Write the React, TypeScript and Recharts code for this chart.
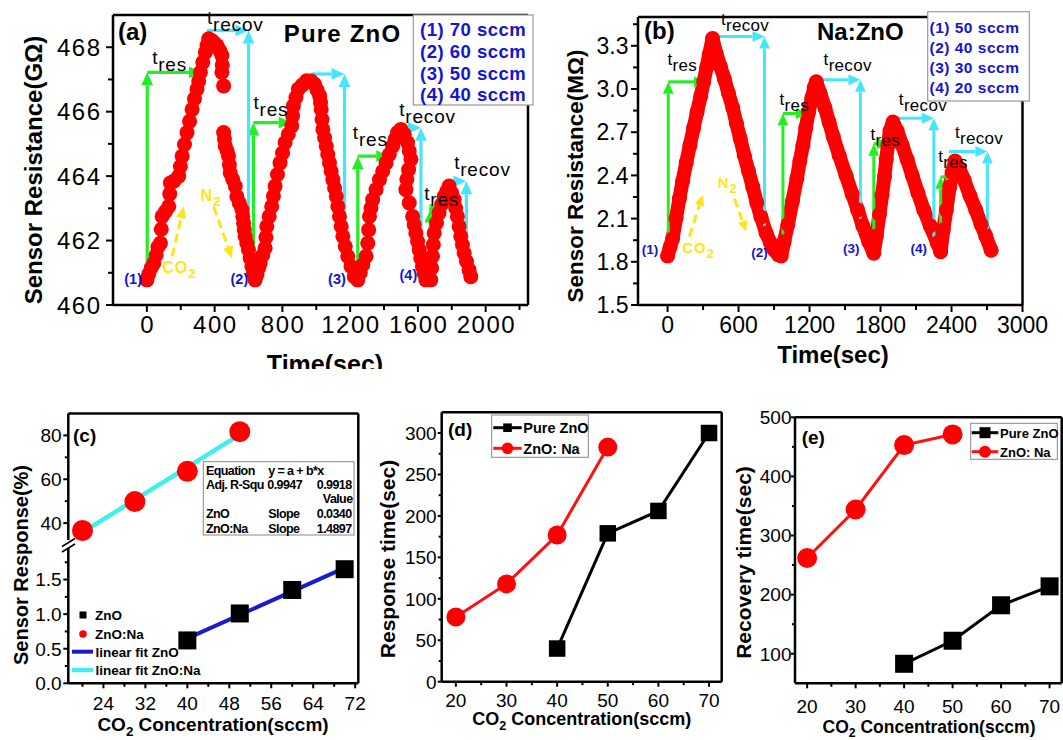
import React from "react";
import {
  ComposedChart,
  Scatter,
  Line,
  XAxis,
  YAxis,
  ReferenceLine,
  ReferenceDot,
} from "recharts";

const FONT = "'Liberation Sans', Arial, Helvetica, sans-serif";
const W = 1063;
const H = 740;
const AXIS_W = 40;
const AXIS_H = 30;

const RED = "#ff0000";
const GREEN = "#22ee22";
const CYAN = "#44e6ff";
const BLUE = "#1414d6";
const YELLOW = "#ffe41a";
const FIT_BLUE = "#1a1ad0";
const FIT_CYAN = "#40eef0";

// ---------- (a) pure ZnO : resistance (GΩ) vs time (s)
const aTime = [
  0, 10, 25, 41, 55, 65, 80, 85, 90, 110, 129, 135, 139, 160, 188, 198, 208, 222, 237, 252, 267, 281, 296, 306, 316, 330, 345, 355, 365,
  385, 400, 414, 430, 443, 445, 443, 453, 453, 458, 463, 474, 482, 487, 492, 507, 522, 531, 546, 561, 566, 571, 575, 580, 590, 600, 610, 620, 629,
  639, 650, 660, 669, 684, 698, 703, 708, 722, 737, 747, 757, 771, 786, 801, 816, 835, 855, 860, 865, 880, 894, 918, 943, 970, 990, 1005, 1020, 1025, 1029,
  1034, 1039, 1049, 1059, 1068, 1078, 1088, 1098, 1108, 1118, 1127, 1137, 1147, 1157, 1171, 1186, 1205, 1225,
  1245, 1260, 1275, 1294, 1304, 1309, 1314, 1323, 1333, 1353, 1373, 1392, 1412, 1431, 1451, 1465, 1480, 1500, 1520, 1539,
  1549, 1559, 1545, 1535, 1529, 1549, 1569, 1578, 1588, 1598, 1608, 1617, 1627, 1637, 1647,
  1676, 1681, 1686, 1691, 1696, 1710, 1725, 1740, 1755, 1770, 1784, 1799, 1814, 1823, 1833, 1843, 1853, 1863, 1873, 1887, 1902, 1912,
];
const aRes = [
  460.78, 460.95, 461.15, 461.3, 461.55, 461.8, 461.92, 462.35, 462.75, 462.9, 463.06, 463.45, 463.79, 463.85, 464.0, 464.3, 464.62, 464.98, 465.35, 465.7, 466.07, 466.4, 466.7, 466.95, 467.22, 467.53, 467.84, 468.05, 468.26,
  468.2, 468.12, 468.05, 467.9, 467.74, 467.45, 467.22, 466.8, 465.35, 465.15, 464.93, 464.78, 464.62, 464.35, 464.1, 463.9, 463.69, 463.37, 463.16, 462.96, 462.75, 462.54, 462.33, 462.13, 461.92, 461.71, 461.45, 461.2, 460.99,
  460.78, 460.95, 461.15, 461.3, 461.55, 461.77, 462.1, 462.44, 462.75, 463.06, 463.38, 463.69, 464.05, 464.41, 464.72, 465.04, 465.3, 465.56, 465.87, 466.18, 466.44, 466.7, 466.83, 466.96, 466.95, 466.85, 466.67, 466.49, 466.28, 466.07,
  465.76, 465.45, 465.19, 464.93, 464.67, 464.41, 464.15, 463.89, 463.63, 463.37, 463.06, 462.75, 462.44, 462.13, 461.82, 461.51, 461.2, 460.88,
  460.78, 461.0, 461.25, 461.51, 461.92, 462.33, 462.75, 463.01, 463.27, 463.58, 463.89, 464.15, 464.41, 464.67, 464.93, 465.14, 465.35, 465.45, 465.3, 465.04,
  464.78, 464.52, 464.2, 463.9, 463.58, 463.17, 462.75, 462.49, 462.23, 461.97, 461.71, 461.45, 461.19, 460.98, 460.78,
  460.78, 461.15, 461.51, 461.87, 462.23, 462.55, 462.86, 463.12, 463.37, 463.53, 463.69, 463.48, 463.27, 463.01, 462.75, 462.44, 462.13, 461.87, 461.61, 461.35, 461.09, 460.88,
];
const aFlows = ["(1) 70 sccm", "(2) 60 sccm", "(3) 50 sccm", "(4) 40 sccm"];
// [t, low, top, end of horizontal]
const aResArrows = [
  [2, 460.78, 467.22, 325],
  [629, 460.78, 465.66, 855],
  [1245, 460.78, 464.62, 1431],
  [1673, 460.78, 462.96, 1745],
];
// [start of horizontal, t, low, top]
const aRecovArrows = [
  [355, 600, 462.2, 468.52],
  [970, 1167, 462.02, 467.17],
  [1461, 1618, 461.77, 465.5],
  [1775, 1886, 461.25, 463.84],
];
const aResLabels = [[31, 467.48], [629, 466.07], [1216, 465.14], [1637, 463.27]];
const aRecovLabels = [[355, 468.72], [1490, 465.87], [1814, 464.21]];
const aSteps = [[-81, 460.65], [546, 460.65], [1122, 460.65], [1544, 460.78]];
const aCO2 = [[193, 460.99], [149, 461.51], [218, 463.06]];
const aN2 = [[316, 463.22], [394, 463.06], [502, 461.45]];

// ---------- (b) Na:ZnO : resistance (MΩ) vs time (s)
const bTime = [
  0, 20, 42, 71, 100, 127, 158, 189, 220, 249, 280, 305, 330, 352, 380,
  410, 445, 480, 515, 551, 582, 613, 648, 684, 720, 754, 790, 833, 870, 904, 935, 960,
  985, 1017, 1055, 1093, 1118, 1144, 1168, 1192, 1220, 1240, 1257,
  1290, 1330, 1365, 1400, 1450, 1508, 1560, 1607, 1650, 1700, 1743,
  1765, 1791, 1812, 1833, 1848, 1862, 1880, 1905,
  1940, 1983, 2025, 2068, 2115, 2166, 2220, 2280, 2308,
  2330, 2356, 2384, 2405, 2430,
  2465, 2506, 2555, 2605, 2650, 2689, 2735,
];
const bRes = [
  1.84, 1.9, 1.96, 2.1, 2.24, 2.36, 2.49, 2.61, 2.73, 2.84, 2.95, 3.05, 3.15, 3.24, 3.35,
  3.25, 3.16, 3.07, 2.97, 2.87, 2.76, 2.66, 2.54, 2.43, 2.32, 2.21, 2.11, 2.0, 1.93, 1.88, 1.85, 1.84,
  1.94, 2.06, 2.22, 2.38, 2.5, 2.61, 2.73, 2.84, 2.94, 3.01, 3.05,
  2.97, 2.87, 2.77, 2.67, 2.54, 2.4, 2.27, 2.16, 2.05, 1.94, 1.86,
  1.98, 2.13, 2.26, 2.39, 2.51, 2.61, 2.71, 2.77,
  2.71, 2.61, 2.51, 2.4, 2.28, 2.16, 2.05, 1.93, 1.87,
  2.02, 2.16, 2.32, 2.42, 2.5,
  2.45, 2.37, 2.26, 2.16, 2.06, 1.98, 1.88,
];
const bFlows = ["(1) 50 sccm", "(2) 40 sccm", "(3) 30 sccm", "(4) 20 sccm"];
const bResArrows = [
  [6, 1.85, 3.05, 325],
  [975, 1.86, 2.83, 1186],
  [1743, 1.88, 2.62, 1870],
  [2308, 1.87, 2.39, 2449],
];
const bRecovArrows = [
  [339, 819, 2.0, 3.365],
  [1229, 1630, 2.0, 3.064],
  [1912, 2251, 1.95, 2.797],
  [2378, 2703, 1.95, 2.566],
];
const bResLabels = [[0, 3.168], [946, 2.89], [1715, 2.647], [2288, 2.496]];
const bRecovLabels = [[452, 3.446], [1319, 3.168], [1955, 2.89], [2429, 2.658]];
const bSteps = [[-148, 1.852], [777, 1.836], [1552, 1.864], [2124, 1.864]];
const bCO2 = [[261, 1.859], [184, 1.975], [297, 2.264]];
const bN2 = [[424, 2.31], [565, 2.24], [664, 2.01]];

// ---------- (c)(d)(e) vs CO2 concentration (sccm)
const concZnO = [40, 50, 60, 70];
const concNa = [20, 30, 40, 50];
const cRespZnO = [0.62, 1.01, 1.35, 1.65];
const cRespNa = [36.6, 49.8, 63.6, 81.7];
const cFitConcZnO = [40, 70];
const cFitZnO = [0.65, 1.67];
const cFitConcNa = [20, 50];
const cFitNa = [35.8, 80.4];
const dTimeZnO = [40, 179, 206, 300];
const dTimeNa = [78, 118, 177, 283];
const eTimeZnO = [83, 122, 182, 214];
const eTimeNa = [262, 344, 453, 471];

const toPts = (xs: number[], ys: number[]) => xs.map((x, i) => ({ t: x, v: ys[i] }));

type Box = { l: number; t: number; r: number; b: number };
const BOX_A: Box = { l: 113, t: 15, r: 528, b: 305 };
const BOX_B: Box = { l: 638, t: 17, r: 1022.5, b: 305 };
const BOX_CU: Box = { l: 68.3, t: 413.5, r: 358.3, b: 545 };
const BOX_CL: Box = { l: 68.3, t: 545, r: 358.3, b: 683.3 };
const BOX_D: Box = { l: 441.7, t: 412.3, r: 721.7, b: 681.7 };
const BOX_E: Box = { l: 795, t: 417.3, r: 1061.7, b: 683.3 };

const marginOf = (b: Box, withX = true) => ({
  top: b.t,
  left: b.l - AXIS_W,
  right: W - b.r,
  bottom: H - b.b - (withX ? AXIS_H : 0),
});

const AXIS_LINE = { stroke: "#000", strokeWidth: 2.5 };
const isIn = (arr: number[], v: number) => arr.some((m) => Math.abs(m - v) < 1e-6);

type TickOpts = {
  majors: number[];
  fmt: (v: number) => string;
  size: number;
  gap: number;
  ls?: number;
  major?: number;
  minor?: number;
};

function bottomTick(o: TickOpts) {
  return (p: any) => {
    const v = p.payload.value;
    const major = isIn(o.majors, v);
    const ls = o.ls ?? 0;
    return (
      <g>
        <line x1={p.x} x2={p.x} y1={p.y} y2={p.y + (major ? o.major ?? 6 : o.minor ?? 4)} stroke="#000" strokeWidth={2} />
        {major ? (
          <text x={p.x + ls / 2} y={p.y + o.gap} textAnchor="middle" fontFamily={FONT} fontSize={o.size} letterSpacing={ls} fill="#000">
            {o.fmt(v)}
          </text>
        ) : null}
      </g>
    );
  };
}

function leftTick(o: TickOpts) {
  return (p: any) => {
    const v = p.payload.value;
    const major = isIn(o.majors, v);
    const ls = o.ls ?? 0;
    return (
      <g>
        <line x1={p.x} x2={p.x - (major ? o.major ?? 6 : o.minor ?? 4)} y1={p.y} y2={p.y} stroke="#000" strokeWidth={2} />
        {major ? (
          <text x={p.x - o.gap + ls} y={p.y} dy="0.36em" textAnchor="end" fontFamily={FONT} fontSize={o.size} letterSpacing={ls} fill="#000">
            {o.fmt(v)}
          </text>
        ) : null}
      </g>
    );
  };
}

function arrowShape(color: string, width: number, head: number, dash?: string) {
  return (p: any) => {
    const { x1, y1, x2, y2 } = p;
    const dx = x2 - x1;
    const dy = y2 - y1;
    const len = Math.hypot(dx, dy) || 1;
    const ux = dx / len;
    const uy = dy / len;
    const bx = x2 - ux * head;
    const by = y2 - uy * head;
    const hw = head * 0.45;
    return (
      <g>
        <line x1={x1} y1={y1} x2={bx} y2={by} stroke={color} strokeWidth={width} strokeDasharray={dash} />
        <polygon points={`${x2},${y2} ${bx - uy * hw},${by + ux * hw} ${bx + uy * hw},${by - ux * hw}`} fill={color} />
      </g>
    );
  };
}

const roundDot = (r: number, fill: string) => (p: any) => <circle cx={p.cx} cy={p.cy} r={r} fill={fill} />;
const squareDot = (s: number, fill: string) => (p: any) => (
  <rect key={`sq-${p.index}`} x={p.cx - s / 2} y={p.cy - s / 2} width={s} height={s} fill={fill} />
);
const circleDot = (r: number, fill: string) => (p: any) => (
  <circle key={`ci-${p.index}`} cx={p.cx} cy={p.cy} r={r} fill={fill} />
);

function textMark(key: string, x: number, y: number, render: (cx: number, cy: number) => React.ReactElement) {
  return <ReferenceDot key={key} x={x} y={y} r={0} ifOverflow="visible" shape={(p: any) => render(p.cx, p.cy)} />;
}

type Ann = {
  res: number[][];
  recov: number[][];
  resLbl: number[][];
  recovLbl: number[][];
  steps: number[][];
  co2: number[][];
  n2: number[][];
};
type AnnStyle = { tSize: number; tLs: number; stepSize: number; gasSize: number; gasLs: number; lw: number; head: number };

function annotations(id: string, a: Ann, s: AnnStyle) {
  const out: React.ReactElement[] = [];
  const g = arrowShape(GREEN, s.lw, s.head);
  const c = arrowShape(CYAN, s.lw, s.head);
  const y = arrowShape(YELLOW, 3, s.head * 0.9, "9 5");
  a.res.forEach(([t, low, top, end], i) => {
    out.push(<ReferenceLine key={`${id}gv${i}`} segment={[{ x: t, y: low }, { x: t, y: top }]} ifOverflow="visible" shape={g} />);
    out.push(<ReferenceLine key={`${id}gh${i}`} segment={[{ x: t, y: top }, { x: end, y: top }]} ifOverflow="visible" shape={g} />);
  });
  a.recov.forEach(([start, t, low, top], i) => {
    out.push(<ReferenceLine key={`${id}ch${i}`} segment={[{ x: start, y: top }, { x: t, y: top }]} ifOverflow="visible" shape={c} />);
    out.push(<ReferenceLine key={`${id}cv${i}`} segment={[{ x: t, y: low }, { x: t, y: top }]} ifOverflow="visible" shape={c} />);
  });
  const tText = (sub: string) => (x: number, yy: number) => (
    <text x={x} y={yy} fontFamily={FONT} fontSize={s.tSize} letterSpacing={s.tLs} fill="#000">
      t<tspan dy={s.tSize * 0.36}>{sub}</tspan>
    </text>
  );
  a.resLbl.forEach(([t, v], i) => out.push(textMark(`${id}tr${i}`, t, v, tText("res"))));
  a.recovLbl.forEach(([t, v], i) => out.push(textMark(`${id}tc${i}`, t, v, tText("recov"))));
  a.steps.forEach(([t, v], i) =>
    out.push(
      textMark(`${id}st${i}`, t, v, (x, yy) => (
        <text x={x} y={yy} textAnchor="middle" fontFamily={FONT} fontWeight="bold" fontSize={s.stepSize} fill={BLUE}>
          ({i + 1})
        </text>
      ))
    )
  );
  out.push(
    textMark(`${id}co2`, a.co2[0][0], a.co2[0][1], (x, yy) => (
      <text x={x} y={yy} textAnchor="middle" fontFamily={FONT} fontWeight="bold" fontSize={s.gasSize} letterSpacing={s.gasLs} fill={YELLOW}>
        CO<tspan dy={s.gasSize * 0.3} fontSize={s.gasSize * 0.85}>2</tspan>
      </text>
    ))
  );
  out.push(
    textMark(`${id}n2`, a.n2[0][0], a.n2[0][1], (x, yy) => (
      <text x={x} y={yy} fontFamily={FONT} fontWeight="bold" fontSize={s.gasSize} letterSpacing={s.gasLs} fill={YELLOW}>
        N<tspan dy={s.gasSize * 0.3} fontSize={s.gasSize * 0.85}>2</tspan>
      </text>
    ))
  );
  out.push(<ReferenceLine key={`${id}ya`} segment={[{ x: a.co2[1][0], y: a.co2[1][1] }, { x: a.co2[2][0], y: a.co2[2][1] }]} ifOverflow="visible" shape={y} />);
  out.push(<ReferenceLine key={`${id}yb`} segment={[{ x: a.n2[1][0], y: a.n2[1][1] }, { x: a.n2[2][0], y: a.n2[2][1] }]} ifOverflow="visible" shape={y} />);
  return out;
}

function frame(id: string, xMax: number | null, yMax: number | null) {
  const out: React.ReactElement[] = [];
  if (yMax !== null) out.push(<ReferenceLine key={`${id}ft`} y={yMax} stroke="#000" strokeWidth={2.5} ifOverflow="visible" />);
  if (xMax !== null) out.push(<ReferenceLine key={`${id}fr`} x={xMax} stroke="#000" strokeWidth={2.5} ifOverflow="visible" />);
  return out;
}

const axisCommon = { type: "number" as const, interval: 0 as const, tickLine: false, tickSize: 0, tickMargin: 0, axisLine: AXIS_LINE };

function ChartA() {
  return (
    <ComposedChart width={W} height={H} margin={marginOf(BOX_A)}>
      <XAxis
        {...axisCommon}
        dataKey="t"
        domain={[-200, 2250]}
        height={AXIS_H}
        ticks={[0, 200, 400, 600, 800, 1000, 1200, 1400, 1600, 1800, 2000, 2200]}
        tick={bottomTick({ majors: [0, 400, 800, 1200, 1600, 2000], fmt: String, size: 24, gap: 28, ls: 1.5, major: 7, minor: 5 })}
      />
      <YAxis
        {...axisCommon}
        dataKey="v"
        domain={[460, 469]}
        width={AXIS_W}
        ticks={[460, 461, 462, 463, 464, 465, 466, 467, 468]}
        tick={leftTick({ majors: [460, 462, 464, 466, 468], fmt: String, size: 24, gap: 13, ls: 1.5, major: 7, minor: 5 })}
      />
      {frame("a", 2250, 469)}
      <Scatter data={toPts(aTime, aRes)} shape={roundDot(7.5, RED)} isAnimationActive={false} />
      {annotations(
        "a",
        { res: aResArrows, recov: aRecovArrows, resLbl: aResLabels, recovLbl: aRecovLabels, steps: aSteps, co2: aCO2, n2: aN2 },
        { tSize: 19, tLs: 0.8, stepSize: 14.5, gasSize: 16, gasLs: 1, lw: 3.2, head: 13 }
      )}
    </ComposedChart>
  );
}

function ChartB() {
  return (
    <ComposedChart width={W} height={H} margin={marginOf(BOX_B)}>
      <XAxis
        {...axisCommon}
        dataKey="t"
        domain={[-250, 3000]}
        height={AXIS_H}
        ticks={[0, 300, 600, 900, 1200, 1500, 1800, 2100, 2400, 2700, 3000]}
        tick={bottomTick({ majors: [0, 600, 1200, 1800, 2400, 3000], fmt: String, size: 23, gap: 28, major: 7, minor: 5 })}
      />
      <YAxis
        {...axisCommon}
        dataKey="v"
        domain={[1.5, 3.5]}
        width={AXIS_W}
        ticks={[1.5, 1.65, 1.8, 1.95, 2.1, 2.25, 2.4, 2.55, 2.7, 2.85, 3.0, 3.15, 3.3, 3.45]}
        tick={leftTick({ majors: [1.5, 1.8, 2.1, 2.4, 2.7, 3.0, 3.3], fmt: (v) => v.toFixed(1), size: 23, gap: 9.5, major: 7, minor: 5 })}
      />
      {frame("b", 3000, 3.5)}
      <Line
        data={toPts(bTime, bRes)}
        dataKey="v"
        stroke={RED}
        strokeWidth={14}
        strokeLinejoin="round"
        strokeLinecap="round"
        dot={circleDot(7.5, RED)}
        activeDot={false}
        isAnimationActive={false}
      />
      {annotations(
        "b",
        { res: bResArrows, recov: bRecovArrows, resLbl: bResLabels, recovLbl: bRecovLabels, steps: bSteps, co2: bCO2, n2: bN2 },
        { tSize: 17, tLs: 0.3, stepSize: 13.5, gasSize: 15, gasLs: 1, lw: 3, head: 12 }
      )}
    </ComposedChart>
  );
}

const C_DOM_X = [17.3, 72.6];

function ChartCUpper() {
  return (
    <ComposedChart width={W} height={H} margin={marginOf(BOX_CU, false)}>
      <XAxis type="number" dataKey="t" domain={C_DOM_X} hide />
      <YAxis
        {...axisCommon}
        dataKey="v"
        domain={[30, 90]}
        width={AXIS_W}
        ticks={[40, 50, 60, 70, 80]}
        tick={leftTick({ majors: [40, 60, 80], fmt: String, size: 19, gap: 6.6, major: 5, minor: 3.5 })}
      />
      {frame("cu", 72.6, 90)}
      <Scatter data={toPts(concNa, cRespNa)} shape={roundDot(10.5, RED)} isAnimationActive={false} />
      <Line data={toPts(cFitConcNa, cFitNa)} dataKey="v" stroke={FIT_CYAN} strokeWidth={4.5} dot={false} activeDot={false} isAnimationActive={false} />
    </ComposedChart>
  );
}

function ChartCLower() {
  return (
    <ComposedChart width={W} height={H} margin={marginOf(BOX_CL)}>
      <XAxis
        {...axisCommon}
        dataKey="t"
        domain={C_DOM_X}
        height={AXIS_H}
        ticks={[20, 24, 28, 32, 36, 40, 44, 48, 52, 56, 60, 64, 68, 72]}
        tick={bottomTick({ majors: [24, 32, 40, 48, 56, 64, 72], fmt: String, size: 19, gap: 26.7, major: 5, minor: 3.5 })}
      />
      <YAxis
        {...axisCommon}
        dataKey="v"
        domain={[0, 2]}
        width={AXIS_W}
        ticks={[0, 0.25, 0.5, 0.75, 1, 1.25, 1.5, 1.75]}
        tick={leftTick({ majors: [0, 0.5, 1, 1.5], fmt: (v) => v.toFixed(1), size: 19, gap: 6.6, major: 5, minor: 3.5 })}
      />
      {frame("cl", 72.6, null)}
      <Scatter data={toPts(concZnO, cRespZnO)} shape={(p: any) => <rect x={p.cx - 9} y={p.cy - 9} width={18} height={18} fill="#000" />} isAnimationActive={false} />
      <Line data={toPts(cFitConcZnO, cFitZnO)} dataKey="v" stroke={FIT_BLUE} strokeWidth={4} dot={false} activeDot={false} isAnimationActive={false} />
    </ComposedChart>
  );
}

function ChartTime(props: { box: Box; xDom: number[]; yDom: number[]; yTicks: number[]; yMajors: number[]; gapX: number; gapY: number; zno: number[]; na: number[]; sq: number; r: number }) {
  const { box, xDom, yDom, yTicks, yMajors, gapX, gapY, zno, na, sq, r } = props;
  return (
    <ComposedChart width={W} height={H} margin={marginOf(box)}>
      <XAxis
        {...axisCommon}
        dataKey="t"
        domain={xDom}
        height={AXIS_H}
        ticks={[20, 25, 30, 35, 40, 45, 50, 55, 60, 65, 70]}
        tick={bottomTick({ majors: [20, 30, 40, 50, 60, 70], fmt: String, size: 19, gap: gapX, major: 5, minor: 3.5 })}
      />
      <YAxis
        {...axisCommon}
        dataKey="v"
        domain={yDom}
        width={AXIS_W}
        ticks={yTicks}
        tick={leftTick({ majors: yMajors, fmt: String, size: 19, gap: gapY, major: 4, minor: 3 })}
      />
      {frame("t", xDom[1], yDom[1])}
      <Line data={toPts(concZnO, zno)} dataKey="v" stroke="#000" strokeWidth={3} dot={squareDot(sq, "#000")} activeDot={false} isAnimationActive={false} />
      <Line data={toPts(concNa, na)} dataKey="v" stroke="#ff1010" strokeWidth={3} dot={circleDot(r, RED)} activeDot={false} isAnimationActive={false} />
    </ComposedChart>
  );
}

const B = { fontFamily: FONT, fontWeight: "bold" as const };

function CO2Title({ x, y, size }: { x: number; y: number; size: number }) {
  return (
    <text x={x} y={y} textAnchor="middle" fontSize={size} {...B} fill="#000">
      CO<tspan dy={size * 0.25} fontSize={size * 0.7}>2</tspan>
      <tspan dy={-size * 0.25}> Concentration(sccm)</tspan>
    </text>
  );
}

function YTitle({ x, y, size, text }: { x: number; y: number; size: number; text: string }) {
  return (
    <text transform={`translate(${x},${y}) rotate(-90)`} textAnchor="middle" fontSize={size} {...B} fill="#000">
      {text}
    </text>
  );
}

function Overlay() {
  return (
    <svg width={W} height={H} style={{ position: "absolute", left: 0, top: 0 }}>
      <defs>
        <clipPath id="clipTopRow">
          <rect x={0} y={0} width={W} height={369} />
        </clipPath>
      </defs>

      {/* (a) */}
      <text x={118} y={40} fontSize={24} {...B}>(a)</text>
      <text x={283.7} y={41.7} fontSize={24} letterSpacing={1.2} {...B}>Pure ZnO</text>
      <rect x={413.3} y={15} width={119.7} height={90} fill="#fff" stroke="#9a9a9a" strokeWidth={1.2} />
      {aFlows.map((s, i) => (
        <text key={s} x={420} y={36 + i * 21.8} fontSize={18.5} letterSpacing={0.5} {...B} fill={BLUE}>{s}</text>
      ))}
      <YTitle x={42} y={170} size={24} text="Sensor Resistance(GΩ)" />
      <text x={325} y={373} textAnchor="middle" fontSize={25} {...B} clipPath="url(#clipTopRow)">Time(sec)</text>

      {/* (b) */}
      <text x={644} y={39} fontSize={24} {...B}>(b)</text>
      <text x={817} y={40} fontSize={24} {...B}>Na:ZnO</text>
      <rect x={927.7} y={11.7} width={101.6} height={89.3} fill="#fff" stroke="#9a9a9a" strokeWidth={1.2} />
      {bFlows.map((s, i) => (
        <text key={s} x={929.5} y={33.3 + i * 20} fontSize={15.5} letterSpacing={0.5} {...B} fill={BLUE}>{s}</text>
      ))}
      <YTitle x={583} y={176} size={22.5} text="Sensor Resistance(MΩ)" />
      <text x={833} y={363} textAnchor="middle" fontSize={24} {...B}>Time(sec)</text>

      {/* (c) */}
      <text x={73} y={442} fontSize={19} {...B}>(c)</text>
      <rect x={62} y={540} width={12} height={8} fill="#fff" />
      <line x1={62} y1={546.5} x2={75} y2={538.5} stroke="#000" strokeWidth={1.6} />
      <line x1={62} y1={552} x2={75} y2={544} stroke="#000" strokeWidth={1.6} />
      <rect x={203.3} y={461.7} width={150.7} height={73.3} fill="#fff" stroke="#888" strokeWidth={1} />
      <g fontSize={12.5} letterSpacing={-0.6} {...B} fill="#000">
        <text x={206} y={475}>Equation</text>
        <text x={268.3} y={475}>y = a + b*x</text>
        <text x={206} y={489.3}>Adj. R-Squ</text>
        <text x={302} y={489.3} textAnchor="end">0.9947</text>
        <text x={351.5} y={489.3} textAnchor="end">0.9918</text>
        <text x={352.5} y={503.3} textAnchor="end">Value</text>
        <text x={206} y={518.3}>ZnO</text>
        <text x={268.3} y={518.3}>Slope</text>
        <text x={351.5} y={518.3} textAnchor="end">0.0340</text>
        <text x={206} y={532.7}>ZnO:Na</text>
        <text x={268.3} y={532.7}>Slope</text>
        <text x={351.5} y={532.7} textAnchor="end">1.4897</text>
      </g>
      <rect x={79.5} y={611.5} width={7} height={7} fill="#000" />
      <circle cx={83} cy={634} r={3.8} fill={RED} />
      <line x1={72} y1={651.7} x2={93} y2={651.7} stroke={FIT_BLUE} strokeWidth={4} />
      <line x1={72} y1={670} x2={93} y2={670} stroke={FIT_CYAN} strokeWidth={4.5} />
      <g fontSize={13.5} {...B} fill="#000">
        <text x={95} y={620}>ZnO</text>
        <text x={95} y={639}>ZnO:Na</text>
        <text x={95.5} y={657}>linear fit ZnO</text>
        <text x={95.5} y={675}>linear fit ZnO:Na</text>
      </g>
      <YTitle x={27.5} y={565} size={20} text="Sensor Response(%)" />
      <CO2Title x={213} y={731} size={19} />

      {/* (d) */}
      <text x={448} y={436} fontSize={19} {...B}>(d)</text>
      <rect x={491.7} y={415} width={96.6} height={42.3} fill="#fff" stroke="#888" strokeWidth={1} />
      <line x1={493.3} y1={427.7} x2={521.7} y2={427.7} stroke="#000" strokeWidth={3} />
      <rect x={503.2} y={423.4} width={8.6} height={8.6} fill="#000" />
      <line x1={493.3} y1={448.3} x2={521.7} y2={448.3} stroke="#ff1010" strokeWidth={3} />
      <circle cx={507.5} cy={448.3} r={5.8} fill={RED} />
      <g fontSize={14.5} {...B} fill="#000">
        <text x={523.3} y={433}>Pure ZnO</text>
        <text x={523.3} y={453.5}>ZnO: Na</text>
      </g>
      <YTitle x={394.5} y={559} size={21} text="Response time(sec)" />
      <CO2Title x={581.7} y={725} size={18} />

      {/* (e) */}
      <text x={801.7} y={444} fontSize={19} {...B}>(e)</text>
      <rect x={970.7} y={423.3} width={86.6} height={36} fill="#fff" stroke="#888" strokeWidth={1} />
      <line x1={971.7} y1={432.7} x2={998.3} y2={432.7} stroke="#000" strokeWidth={3} />
      <rect x={979.5} y={427.2} width={11} height={11} fill="#000" />
      <line x1={971.7} y1={451.7} x2={998.3} y2={451.7} stroke="#ff1010" strokeWidth={3} />
      <circle cx={985} cy={451.7} r={6} fill={RED} />
      <g fontSize={13} {...B} fill="#000">
        <text x={1000} y={437.5}>Pure ZnO</text>
        <text x={1000} y={456.5}>ZnO: Na</text>
      </g>
      <YTitle x={750.7} y={562.5} size={21} text="Recovery time(sec)" />
      <CO2Title x={929} y={733} size={17.5} />
    </svg>
  );
}

const layer: React.CSSProperties = { position: "absolute", left: 0, top: 0 };

export default function App() {
  return (
    <div style={{ position: "absolute", left: 0, top: 0, width: W, height: H, background: "#fff", overflow: "hidden", fontFamily: FONT }}>
      <div style={layer}><ChartA /></div>
      <div style={layer}><ChartB /></div>
      <div style={layer}><ChartCUpper /></div>
      <div style={layer}><ChartCLower /></div>
      <div style={layer}>
        <ChartTime box={BOX_D} xDom={[17.2, 72.5]} yDom={[0, 325]} yTicks={[0, 25, 50, 75, 100, 125, 150, 175, 200, 225, 250, 275, 300]} yMajors={[0, 50, 100, 150, 200, 250, 300]} gapX={25} gapY={5} zno={dTimeZnO} na={dTimeNa} sq={16.5} r={9.5} />
      </div>
      <div style={layer}>
        <ChartTime box={BOX_E} xDom={[17.5, 72.5]} yDom={[50, 500]} yTicks={[100, 150, 200, 250, 300, 350, 400, 450, 500]} yMajors={[100, 200, 300, 400, 500]} gapX={29.7} gapY={3.5} zno={eTimeZnO} na={eTimeNa} sq={18} r={10} />
      </div>
      <Overlay />
    </div>
  );
}
